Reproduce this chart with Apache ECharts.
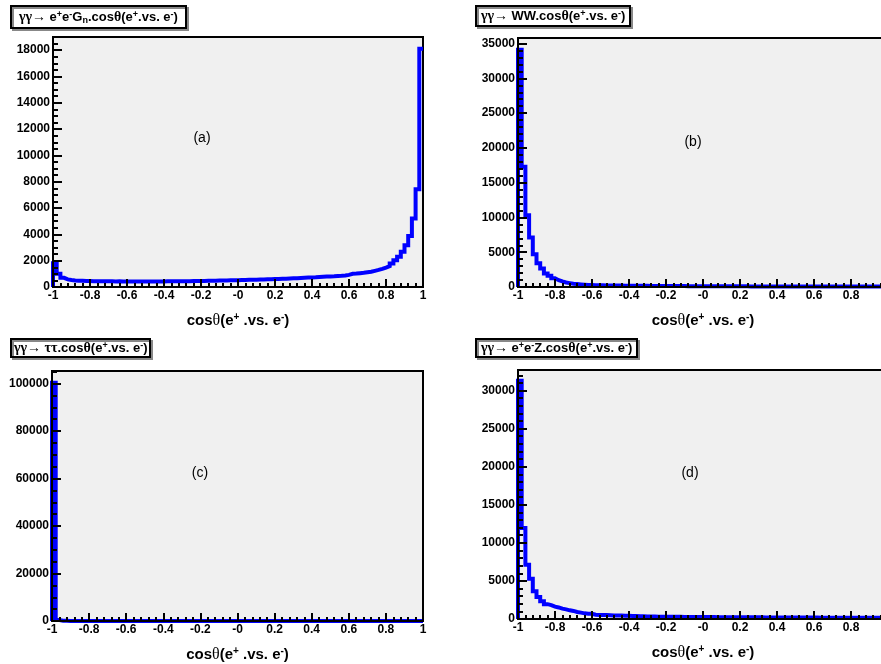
<!DOCTYPE html>
<html>
<head>
<meta charset="utf-8">
<script src="https://cdn.jsdelivr.net/npm/echarts@6/dist/echarts.min.js"></script>
<style>
  html, body { margin: 0; padding: 0; background: #fff; }
  #main { width: 881px; height: 664px; }
</style>
</head>
<body>
<div id="main"></div>
<script>
var chart = echarts.init(document.getElementById('main'), null, { renderer: 'canvas' });

// 100 bins from -1 to 1
var nBins = 100;

// (a) e+e-Gn
var binsA = [1800, 1000, 700, 580, 530, 500, 480, 470, 460, 450,
    445, 440, 440, 435, 430, 430, 425, 430, 420, 425,
    420, 420, 415, 420, 415, 420, 420, 425, 420, 425,
    430, 430, 435, 430, 440, 440, 445, 450, 455, 460,
    465, 470, 475, 480, 490, 495, 500, 505, 515, 520,
    530, 540, 545, 550, 560, 565, 570, 580, 590, 600,
    610, 620, 635, 650, 660, 670, 690, 700, 715, 730,
    740, 760, 780, 790, 800, 810, 830, 850, 880, 920,
    1000, 1020, 1050, 1080, 1120, 1160, 1230, 1300, 1380, 1480,
    1590, 1790, 2040, 2300, 2670, 3180, 3880, 5200, 7420, 18100]

// (b) WW
var binsB = [34100, 17300, 10300, 7100, 4700, 3400, 2650, 1950, 1600, 1250,
    980, 800, 650, 560, 480, 420, 370, 330, 300, 280,
    260, 250, 240, 230, 220, 215, 210, 200, 195, 190,
    185, 180, 175, 170, 165, 160, 155, 150, 150, 145,
    140, 140, 135, 130, 130, 125, 120, 120, 115, 110,
    110, 105, 105, 100, 100, 100, 95, 95, 95, 90,
    90, 90, 88, 88, 85, 85, 85, 82, 82, 80,
    80, 80, 78, 78, 78, 75, 75, 75, 72, 72,
    72, 70, 70, 70, 68, 68, 68, 65, 65, 65,
    65, 62, 62, 62, 60, 60, 60, 60, 58, 58]

// (c) tau tau
var binsC = [100300, 400, 150, 80, 40, 20, 10, 0, 0, 0,
    0, 0, 0, 0, 0, 0, 0, 0, 0, 0,
    0, 0, 0, 0, 0, 0, 0, 0, 0, 0,
    0, 0, 0, 0, 0, 0, 0, 0, 0, 0,
    0, 0, 0, 0, 0, 0, 0, 0, 0, 0,
    0, 0, 0, 0, 0, 0, 0, 0, 0, 0,
    0, 0, 0, 0, 0, 0, 0, 0, 0, 0,
    0, 0, 0, 0, 0, 0, 0, 0, 0, 0,
    0, 0, 0, 0, 0, 0, 0, 0, 0, 0,
    0, 0, 0, 0, 0, 0, 0, 0, 0, 0]

// (d) e+e-Z
var binsD = [31300, 11940, 7140, 5300, 3630, 2890, 2320, 1950, 1830, 1620,
    1520, 1360, 1260, 1140, 1060, 920, 840, 740, 700, 680,
    560, 540, 520, 510, 500, 470, 460, 450, 440, 430,
    400, 380, 360, 350, 340, 330, 320, 310, 305, 300,
    295, 290, 285, 280, 278, 275, 272, 270, 265, 262,
    255, 250, 248, 245, 242, 240, 238, 235, 232, 230,
    228, 225, 222, 220, 218, 215, 212, 210, 208, 205,
    202, 200, 198, 196, 194, 192, 190, 188, 186, 184,
    182, 180, 178, 176, 175, 174, 172, 170, 168, 166,
    165, 164, 162, 160, 158, 156, 155, 154, 152, 150]

var yMax = [19000, 35800, 105300, 32700]
var yStep = [2000, 5000, 20000, 5000]
var yMinor = [4, 5, 4, 5]
var panelTags = ['(a)', '(b)', '(c)', '(d)']

var titles = [
    '{s|γγ→ }{b|e}{sup|+}{b|e}{sup|-}{b|G}{sub|n}{b|.cos}{s|θ}{b|(e}{sup|+}{b|.vs. e}{sup|-}{b|)}',
    '{s|γγ→ }{b|WW.cos}{s|θ}{b|(e}{sup|+}{b|.vs. e}{sup|-}{b|)}',
    '{s|γγ→ ττ}{b|.cos}{s|θ}{b|(e}{sup|+}{b|.vs. e}{sup|-}{b|)}',
    '{s|γγ→ }{b|e}{sup|+}{b|e}{sup|-}{b|Z.cos}{s|θ}{b|(e}{sup|+}{b|.vs. e}{sup|-}{b|)}'
]
var xName = '{b|cos}{s|θ}{b|(e}{sup|+}{b| .vs. e}{sup|-}{b|)}'

var grids = [
    { left: 53, top: 37, width: 370, height: 250 },
    { left: 518, top: 38, width: 370, height: 249 },
    { left: 52, top: 371, width: 371, height: 250 },
    { left: 518, top: 370, width: 370, height: 249 }
]
var titlePos = [
    { left: 11, top: 6, padding: [4, 8, 3, 8] },
    { left: 476, top: 6, padding: [3, 5, 3, 5] },
    { left: 11, top: 339, padding: [2, 3, 2, 3] },
    { left: 476, top: 339, padding: [2, 5, 2, 5] }
]
var tagPos = [[202, 138], [693, 142], [200, 473], [690, 473]]

function histData(bins) {
    var d = [[-1, 0]]
    for (var i = 0; i < nBins; i++) {
        d.push([-1 + 2 * i / nBins, bins[i]])
    }
    d.push([1, bins[nBins - 1]])
    return d
}

var richTitle = {
    b: { fontFamily: 'Liberation Sans', fontWeight: 'bold', fontSize: 13, color: '#000', lineHeight: 15 },
    s: { fontFamily: 'Liberation Serif, DejaVu Serif', fontSize: 14, color: '#000', lineHeight: 15 },
    sup: { fontFamily: 'Liberation Sans', fontWeight: 'bold', fontSize: 9, color: '#000', verticalAlign: 'top', lineHeight: 10 },
    sub: { fontFamily: 'Liberation Sans', fontWeight: 'bold', fontSize: 9, color: '#000', verticalAlign: 'bottom', lineHeight: 10 }
}
var richName = {
    b: { fontFamily: 'Liberation Sans', fontWeight: 'bold', fontSize: 15, color: '#000', lineHeight: 18 },
    s: { fontFamily: 'Liberation Serif, DejaVu Serif', fontSize: 16, color: '#000', lineHeight: 18 },
    sup: { fontFamily: 'Liberation Sans', fontWeight: 'bold', fontSize: 10, color: '#000', verticalAlign: 'top', lineHeight: 11 }
}

var allBins = [binsA, binsB, binsC, binsD]
var option = {
    backgroundColor: '#fff',
    animation: false,
    title: [],
    grid: [],
    xAxis: [],
    yAxis: [],
    series: [],
    graphic: []
}

for (var k = 0; k < 4; k++) {
    option.title.push({
        text: titles[k],
        left: titlePos[k].left,
        top: titlePos[k].top,
        padding: titlePos[k].padding,
        backgroundColor: '#fff',
        borderColor: '#000',
        borderWidth: 2,
        shadowColor: '#888',
        shadowBlur: 0,
        shadowOffsetX: 2,
        shadowOffsetY: 2,
        textStyle: { rich: richTitle }
    })
    option.grid.push({
        left: grids[k].left,
        top: grids[k].top,
        width: grids[k].width,
        height: grids[k].height,
        show: true,
        backgroundColor: '#f0f0f0',
        borderColor: '#000',
        borderWidth: 2,
        outerBoundsMode: 'none',
        containLabel: false
    })
    option.xAxis.push({
        type: 'value',
        gridIndex: k,
        min: -1,
        max: 1,
        interval: 0.2,
        z: 3,
        name: xName,
        nameLocation: 'middle',
        nameGap: 25,
        nameTextStyle: { rich: richName },
        axisLine: { show: true, onZero: false, lineStyle: { color: '#000', width: 2 } },
        axisTick: { show: true, inside: true, length: 8, lineStyle: { color: '#000', width: 2 } },
        minorTick: { show: true, splitNumber: 5, length: 4, lineStyle: { color: '#000', width: 2 } },
        splitLine: { show: false },
        axisLabel: {
            margin: 3,
            color: '#000',
            fontFamily: 'Liberation Sans',
            fontWeight: 'bold',
            fontSize: 12,
            formatter: function (v) {
                var r = Math.round(v * 10) / 10
                if (r === 0) return '-0'
                return String(r)
            }
        }
    })
    option.yAxis.push({
        type: 'value',
        gridIndex: k,
        min: 0,
        max: yMax[k],
        interval: yStep[k],
        z: 3,
        axisLine: { show: true, onZero: false, lineStyle: { color: '#000', width: 2 } },
        axisTick: { show: true, inside: true, length: 9, lineStyle: { color: '#000', width: 2 } },
        minorTick: { show: true, splitNumber: yMinor[k], length: 5, lineStyle: { color: '#000', width: 2 } },
        splitLine: { show: false },
        axisLabel: {
            margin: 3,
            color: '#000',
            fontFamily: 'Liberation Sans',
            fontWeight: 'bold',
            fontSize: 12,
            showMaxLabel: false,
            formatter: function (v) { return String(v) }
        }
    })
    option.series.push({
        type: 'line',
        xAxisIndex: k,
        yAxisIndex: k,
        step: 'end',
        symbol: 'none',
        z: 2,
        lineStyle: { color: '#0000ff', width: 4, join: 'miter', cap: 'butt' },
        data: histData(allBins[k])
    })
    option.graphic.push({
        type: 'text',
        x: tagPos[k][0],
        y: tagPos[k][1],
        z: 10,
        style: {
            text: panelTags[k],
            fill: '#000',
            font: '14px "Liberation Sans"',
            textAlign: 'center',
            textVerticalAlign: 'middle'
        }
    })
}

chart.setOption(option)
</script>
</body>
</html>
